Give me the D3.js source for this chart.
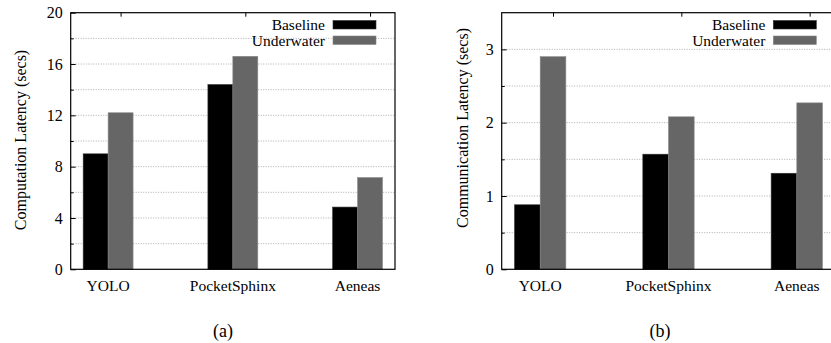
<!DOCTYPE html>
<html>
<head>
<meta charset="utf-8">
<script src="https://cdn.jsdelivr.net/npm/d3@7"></script>
<style>
  body { margin: 0; background: #fff; }
</style>
</head>
<body>
<div id="chart"></div>
<script>
// datos
const categories = ["YOLO", "PocketSphinx", "Aeneas"];
const seriesNames = ["Baseline", "Underwater"];
const seriesColors = ["#000000", "#666666"];

const compBaseline = [9.0, 14.4, 4.85];
const compUnderwater = [12.2, 16.6, 7.15];
const commBaseline = [0.88, 1.57, 1.31];
const commUnderwater = [2.90, 2.08, 2.27];

const compTicks = [0, 4, 8, 12, 16, 20];
const commTicks = [0, 1, 2, 3];

const serif = "'Liberation Serif', 'Times New Roman', serif";

const svg = d3.select("#chart")
  .append("svg")
    .attr("width", 831)
    .attr("height", 343)
    .style("font-family", serif);

function drawPanel(cfg) {
    let g = svg.append("g");
    let xScale = d3.scaleLinear()
      .domain([-0.3, categories.length - 0.7])
      .range([cfg.left, cfg.right]);
    let yScale = d3.scaleLinear()
      .domain([0, cfg.yMax])
      .range([cfg.bottom, cfg.top]);

    // grilla punteada
    let grid = d3.range(cfg.gridStep, cfg.yMax, cfg.gridStep);
    g.append("g")
      .selectAll("line")
      .data(grid)
      .enter()
      .append("line")
        .attr("x1", cfg.left)
        .attr("x2", cfg.right)
        .attr("y1", d => yScale(d))
        .attr("y2", d => yScale(d))
        .attr("stroke", "#999")
        .attr("stroke-width", 0.8)
        .attr("stroke-dasharray", "1,1.5");

    // eje Y (ticks hacia adentro)
    g.append("g")
      .attr("transform", `translate(${cfg.left},0)`)
      .call(d3.axisRight(yScale).tickValues(cfg.ticks).tickSize(5).tickFormat(""))
      .call(a => a.select(".domain").remove());
    g.append("g")
      .attr("transform", `translate(${cfg.left},0)`)
      .call(d3.axisRight(yScale).tickValues(grid.filter(v => !cfg.ticks.includes(v))).tickSize(3).tickFormat(""))
      .call(a => a.select(".domain").remove());
    g.selectAll(".tick line").attr("stroke", "#000");

    g.append("g")
      .selectAll("text")
      .data(cfg.ticks)
      .enter()
      .append("text")
        .attr("x", cfg.left - 8)
        .attr("y", d => yScale(d))
        .attr("dy", "0.35em")
        .attr("text-anchor", "end")
        .attr("font-family", serif)
        .attr("font-size", 16)
        .text(d => d);

    // barras
    let groups = g.selectAll(".grp")
      .data(categories)
      .enter()
      .append("g");
    cfg.values.forEach(function(vals, s) {
        groups.append("rect")
          .attr("x", (d, i) => xScale(i - 0.2 + s * 0.2))
          .attr("y", (d, i) => yScale(vals[i]))
          .attr("width", xScale(0.2) - xScale(0))
          .attr("height", (d, i) => yScale(0) - yScale(vals[i]))
          .attr("fill", seriesColors[s])
          .attr("stroke", s == 0 ? "#333" : "#888")
          .attr("stroke-width", 0.6);
    });

    // ticks superiores
    g.append("g")
      .attr("transform", `translate(0,${cfg.top})`)
      .call(d3.axisBottom(xScale).tickValues(categories.map((c, i) => i + 0.1)).tickSize(4).tickFormat(""))
      .call(a => a.select(".domain").remove())
      .selectAll("line").attr("stroke", "#000");

    // etiquetas de categorias
    g.append("g")
      .selectAll("text")
      .data(categories)
      .enter()
      .append("text")
        .attr("x", (d, i) => xScale(i))
        .attr("y", cfg.bottom + 22)
        .attr("text-anchor", "middle")
        .attr("font-family", serif)
        .attr("font-size", 15.5)
        .text(d => d);

    // marco
    g.append("rect")
      .attr("x", cfg.left)
      .attr("y", cfg.top)
      .attr("width", cfg.right - cfg.left)
      .attr("height", cfg.bottom - cfg.top)
      .attr("fill", "none")
      .attr("stroke", "#000")
      .attr("stroke-width", 1.2);

    // leyenda
    seriesNames.forEach(function(name, s) {
        let ly = cfg.top + 12 + s * 15.5;
        g.append("text")
          .attr("x", cfg.right - 70)
          .attr("y", ly)
          .attr("dy", "0.35em")
          .attr("text-anchor", "end")
          .attr("font-family", serif)
          .attr("font-size", 15.5)
          .text(name);
        g.append("rect")
          .attr("x", cfg.right - 62)
          .attr("y", ly - 4.2)
          .attr("width", 43)
          .attr("height", 8.5)
          .attr("fill", seriesColors[s])
          .attr("stroke", s == 0 ? "#333" : "#888")
          .attr("stroke-width", 0.6);
    });

    // titulo eje Y
    g.append("text")
      .attr("transform", `translate(${cfg.labelX},${cfg.labelY}) rotate(-90)`)
      .attr("text-anchor", "middle")
      .attr("font-family", serif)
      .attr("font-size", 16)
      .text(cfg.yLabel);

    // (a) / (b)
    g.append("text")
      .attr("x", cfg.captionX)
      .attr("y", 337)
      .attr("text-anchor", "middle")
      .attr("font-family", serif)
      .attr("font-size", 18)
      .text(cfg.caption);
}

drawPanel({
    left: 70.7, right: 395, top: 12.7, bottom: 269.3,
    yMax: 20, gridStep: 2, ticks: compTicks,
    values: [compBaseline, compUnderwater],
    yLabel: "Computation Latency (secs)", labelX: 26, labelY: 140,
    caption: "(a)", captionX: 223
});

drawPanel({
    left: 501.7, right: 835.3, top: 12.7, bottom: 269.3,
    yMax: 3.5, gridStep: 0.5, ticks: commTicks,
    values: [commBaseline, commUnderwater],
    yLabel: "Communication Latency (secs)", labelX: 468, labelY: 128,
    caption: "(b)", captionX: 660
});
</script>
</body>
</html>
